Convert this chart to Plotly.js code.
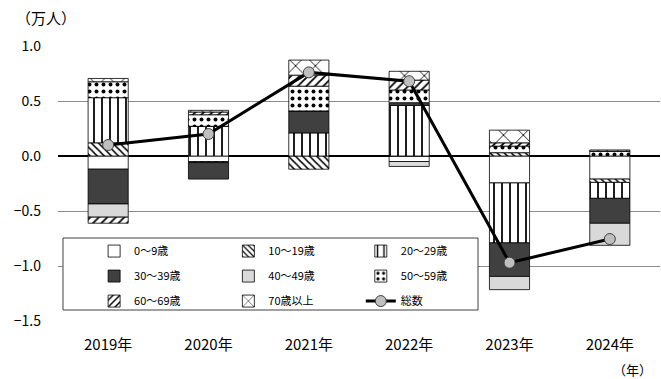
<!DOCTYPE html>
<html>
<head>
<meta charset="utf-8">
<script src="https://cdn.plot.ly/plotly-3.0.1.min.js"></script>
<style>html,body{margin:0;padding:0;background:#fff;}#chart{width:661px;height:379px;}</style>
</head>
<body>
<div id="chart"></div>
<script>
// ---- data (万人) ----
const years = ['2019年', '2020年', '2021年', '2022年', '2023年', '2024年'];
const age0_9   = [-0.12, -0.05,  0.00, -0.05, -0.245, -0.21];
const age10_19 = [ 0.12, -0.01, -0.12,  0.00,  0.03, -0.03];
const age20_29 = [ 0.41,  0.27,  0.21,  0.46, -0.545, -0.145];
const age30_39 = [-0.316, -0.15, 0.20,  0.025, -0.305, -0.227];
const age40_49 = [-0.12,  0.00,  0.00, -0.045, -0.12, -0.20];
const age50_59 = [ 0.145, 0.105, 0.225, 0.115, 0.06,  0.045];
const age60_69 = [-0.055, 0.025, 0.10,  0.09,  0.03,  0.00];
const age70up  = [ 0.03,  0.015, 0.137, 0.08,  0.115, 0.01];
const total    = [ 0.10,  0.20,  0.76,  0.68, -0.97, -0.755];
const seriesNames = ['0～9歳', '10～19歳', '20～29歳', '30～39歳', '40～49歳', '50～59歳', '60～69歳', '70歳以上', '総数'];

const FONT = '"Noto Sans CJK JP", "Noto Sans", sans-serif';
const outline = {color: '#000', width: 0.8};

function bar(name, y, color, pattern, legend) {
  const m = {color: color, line: outline};
  if (pattern) m.pattern = pattern;
  return {type: 'bar', name: name, x: years, y: y, marker: m, legend: legend, legendgroup: name};
}

const traces = [
  bar(seriesNames[0], age0_9, '#ffffff', null, 'legend'),
  bar(seriesNames[1], age10_19, '#ffffff', {shape: '\\', fgcolor: '#000', bgcolor: '#fff', size: 5, solidity: 0.3, fillmode: 'replace'}, 'legend2'),
  bar(seriesNames[2], age20_29, '#ffffff', {shape: '|', fgcolor: '#000', bgcolor: '#fff', size: 8, solidity: 0.22, fillmode: 'replace'}, 'legend3'),
  bar(seriesNames[3], age30_39, '#404040', null, 'legend'),
  bar(seriesNames[4], age40_49, '#d9d9d9', null, 'legend2'),
  bar(seriesNames[5], age50_59, '#ffffff', {shape: '.', fgcolor: '#000', bgcolor: '#fff', size: 7, solidity: 0.25, fillmode: 'replace'}, 'legend3'),
  bar(seriesNames[6], age60_69, '#ffffff', {shape: '/', fgcolor: '#000', bgcolor: '#fff', size: 6, solidity: 0.3, fillmode: 'replace'}, 'legend'),
  bar(seriesNames[7], age70up, '#ffffff', {shape: 'x', fgcolor: '#000', bgcolor: '#fff', size: 14, solidity: 0.12, fillmode: 'replace'}, 'legend2'),
  {type: 'scatter', mode: 'lines+markers', name: seriesNames[8], x: years, y: total, legend: 'legend3', legendgroup: 'total',
   line: {color: '#000', width: 3}, marker: {symbol: 'circle', size: 11, color: '#bfbfbf', line: {color: '#404040', width: 1}}}
];

const legendBase = {
  orientation: 'v', bgcolor: 'rgba(0,0,0,0)', borderwidth: 0,
  font: {family: FONT, size: 11, color: '#000'}, tracegroupgap: 6,
  xanchor: 'left', yanchor: 'top', itemclick: false, itemdoubleclick: false
};

const layout = {
  width: 661, height: 379,
  margin: {l: 58, r: 1, t: 46, b: 58},
  paper_bgcolor: '#fff', plot_bgcolor: '#fff',
  barmode: 'relative', bargap: 0.6,
  font: {family: FONT, size: 14, color: '#000'},
  xaxis: {type: 'category', showgrid: false, showline: false, zeroline: false, ticks: '',
          tickfont: {family: FONT, size: 15, color: '#000'}, ticklabelstandoff: 13, fixedrange: true},
  yaxis: {range: [-1.5, 1.0], dtick: 0.5, tick0: 0, tickformat: '.1f', showgrid: true, gridcolor: '#8c8c8c', gridwidth: 1,
          zeroline: true, zerolinecolor: '#000', zerolinewidth: 1.6, showline: false, ticks: '',
          tickfont: {family: FONT, size: 14, color: '#000'}, ticklabelstandoff: 16, fixedrange: true},
  showlegend: true,
  legend: Object.assign({}, legendBase, {x: 0.06, y: 0.307}),
  legend2: Object.assign({}, legendBase, {x: 0.283, y: 0.307}),
  legend3: Object.assign({}, legendBase, {x: 0.503, y: 0.307}),
  shapes: [
    {type: 'rect', xref: 'paper', yref: 'paper', x0: 0.0083, x1: 0.6977, y0: 0.04, y1: 0.3018,
     line: {color: '#404040', width: 1}, fillcolor: '#ffffff', layer: 'above'}
  ],
  annotations: [
    {text: '（万人）', xref: 'paper', yref: 'paper', x: -0.02, y: 1.102, showarrow: false,
     font: {family: FONT, size: 15, color: '#000'}, xanchor: 'center', yanchor: 'middle'},
    {text: '（年）', xref: 'paper', yref: 'paper', x: 0.955, y: -0.178, showarrow: false,
     font: {family: FONT, size: 13, color: '#000'}, xanchor: 'center', yanchor: 'middle'}
  ]
};

Plotly.newPlot('chart', traces, layout, {displayModeBar: false, staticPlot: true});
</script>
</body>
</html>
